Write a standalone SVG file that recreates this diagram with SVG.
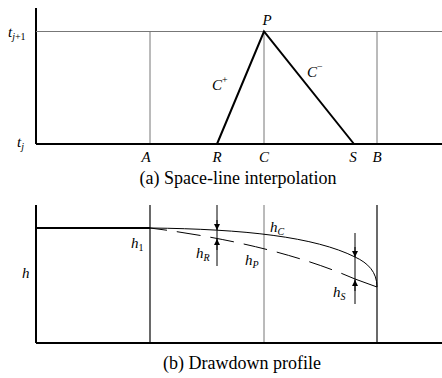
<svg xmlns="http://www.w3.org/2000/svg" width="442" height="378" viewBox="0 0 442 378">
<style>
.ax{stroke:#000;stroke-width:2;fill:none}
.gr{stroke:#777;stroke-width:1;fill:none}
.dk{stroke:#444;stroke-width:1.6;fill:none}
.ln{stroke:#000;stroke-width:2;fill:none}
.th{stroke:#000;stroke-width:1;fill:none}
text{font-family:"Liberation Serif","Times New Roman",serif;fill:#000}
.lb{font-size:15px;font-style:italic}
.sb{font-size:10px}
.cap{font-size:18px}
</style>
<defs>
<marker id="ah" viewBox="0 0 6 8" refX="6" refY="4" markerWidth="6" markerHeight="8" markerUnits="userSpaceOnUse" orient="auto">
<path d="M0,1 L6,4 L0,7 Z" fill="#000"/>
</marker>
</defs>
<rect width="442" height="378" fill="#fff"/>
<g id="panel-a">
<line class="ax" x1="36" y1="8" x2="36" y2="144"/>
<line class="gr" x1="36" y1="31.5" x2="442" y2="31.5"/>
<line class="gr" x1="150" y1="31.5" x2="150" y2="144"/>
<line class="gr" x1="264" y1="31.5" x2="264" y2="144"/>
<line class="gr" x1="377" y1="31.5" x2="377" y2="144"/>
<line class="ax" x1="36" y1="144" x2="442" y2="144"/>
<text class="lb" x="8" y="37">t<tspan class="sb" dy="3">j</tspan><tspan class="sb" font-style="normal">+1</tspan></text>
<text class="lb" x="17" y="147">t<tspan class="sb" dy="3">j</tspan></text>
<text class="lb" x="146" y="162" text-anchor="middle">A</text>
<text class="lb" x="217" y="162" text-anchor="middle">R</text>
<text class="lb" x="264" y="162" text-anchor="middle">C</text>
<text class="lb" x="353" y="162" text-anchor="middle">S</text>
<text class="lb" x="377" y="162" text-anchor="middle">B</text>
<text class="lb" x="267" y="25" text-anchor="middle">P</text>
<text class="cap" x="238" y="184" text-anchor="middle">(a) Space-line interpolation</text>
</g>
<g id="connectors">
<polyline class="ln" points="217,144 264,31.5 354,144"/>
<text class="lb" x="212" y="90">C<tspan class="sb" font-style="normal" dy="-7">+</tspan></text>
<text class="lb" x="307" y="77">C<tspan class="sb" font-style="normal" dy="-7">−</tspan></text>
</g>
<g id="panel-b">
<line class="ax" x1="36" y1="205" x2="36" y2="343"/>
<line class="dk" x1="150" y1="205" x2="150" y2="343"/>
<line class="gr" x1="264" y1="205" x2="264" y2="343"/>
<line class="dk" x1="377" y1="205" x2="377" y2="343"/>
<line class="ax" x1="36" y1="343" x2="442" y2="343"/>
<line class="ln" x1="36" y1="228" x2="150" y2="228"/>
<path class="th" stroke-width="1.8" d="M150,228 C245,229 315,237 355,257 C368,263 377,272 377,287"/>
<path class="th" stroke-width="1.8" stroke-dasharray="24 10" stroke-dashoffset="7" d="M150,228 C230,238 300,255 355,279"/>
<line class="th" stroke-width="1.8" x1="355" y1="279" x2="377" y2="287"/>
<line class="th" x1="217" y1="205" x2="217" y2="266"/>
<line class="th" x1="217" y1="220" x2="217" y2="230" marker-end="url(#ah)"/>
<line class="th" x1="217" y1="250" x2="217" y2="239" marker-end="url(#ah)"/>
<line class="th" x1="355" y1="233" x2="355" y2="304"/>
<line class="th" x1="355" y1="247" x2="355" y2="257" marker-end="url(#ah)"/>
<line class="th" x1="355" y1="291" x2="355" y2="280" marker-end="url(#ah)"/>
<text class="lb" x="22" y="278">h</text>
<text class="lb" x="131" y="248">h<tspan class="sb" font-style="normal" dy="3">1</tspan></text>
<text class="lb" x="196" y="258">h<tspan class="sb" dy="3">R</tspan></text>
<text class="lb" x="270" y="232">h<tspan class="sb" dy="3">C</tspan></text>
<text class="lb" x="245" y="265">h<tspan class="sb" dy="3">P</tspan></text>
<text class="lb" x="333" y="297">h<tspan class="sb" dy="3">S</tspan></text>
<text class="cap" x="242" y="369" text-anchor="middle">(b) Drawdown profile</text>
</g>
</svg>
